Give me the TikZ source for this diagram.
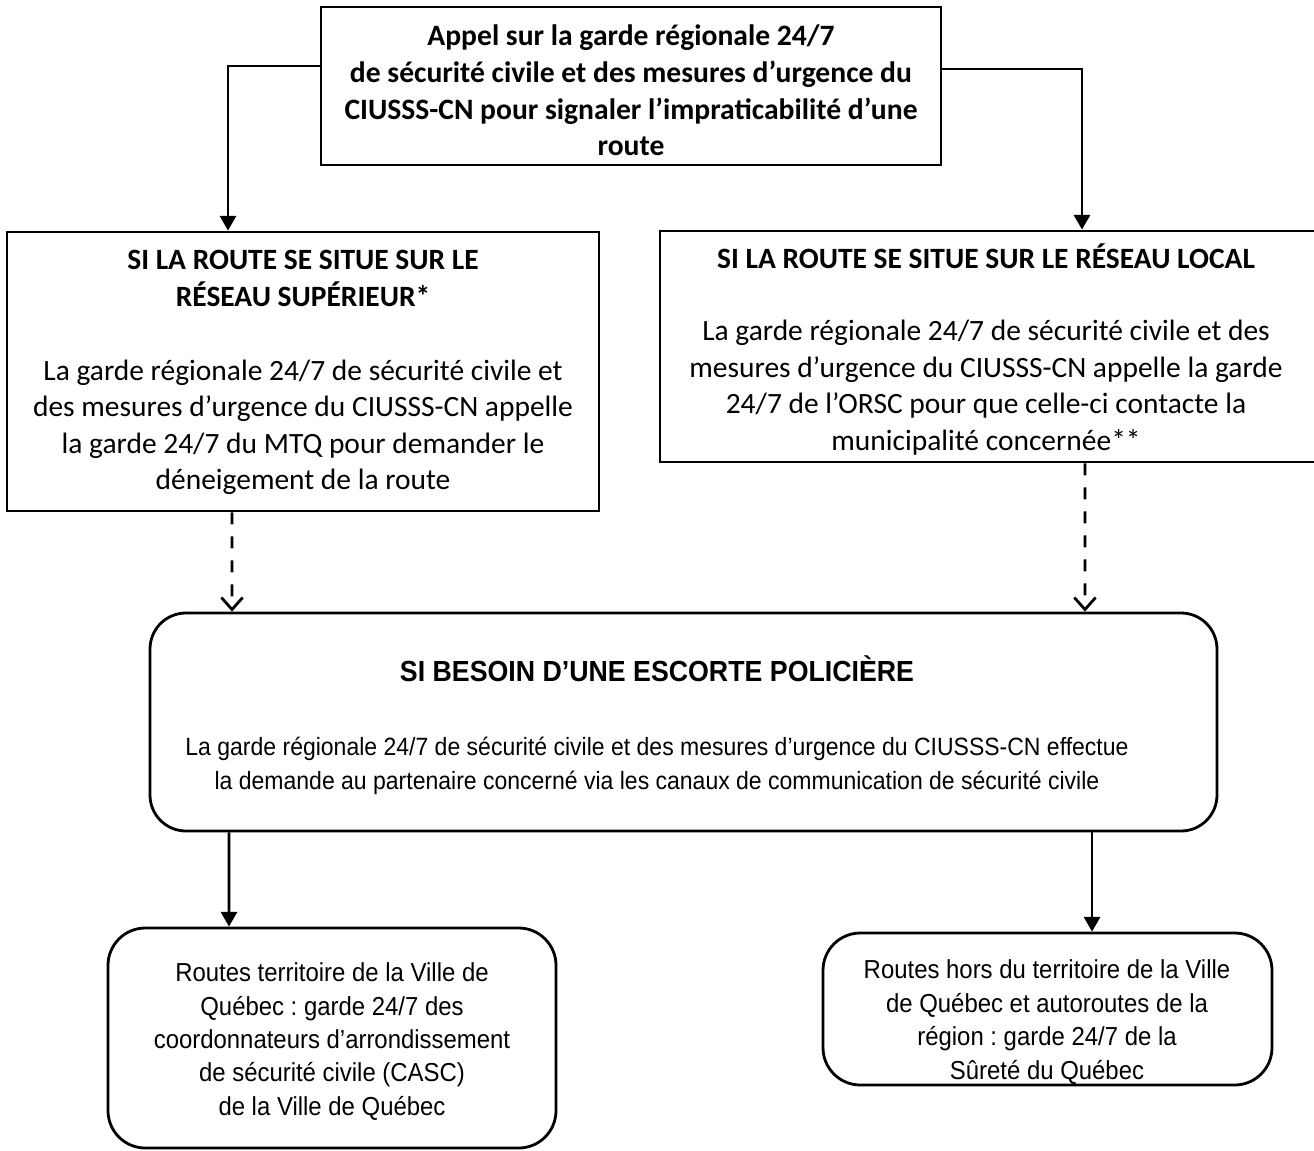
\documentclass[tikz,border=0pt]{standalone}
\usepackage{fontspec}
\setmainfont{Carlito}
\newfontfamily\arialfont[FakeStretch=0.92]{Liberation Sans}
\usetikzlibrary{arrows.meta}
\frenchspacing
\begin{document}
\begin{tikzpicture}[x=0.75pt,y=-0.75pt,
  box/.style={draw,line width=2.1pt,inner sep=0pt,rectangle},
  rbox/.style={box,rounded corners=27pt},
  ctext/.style={align=center,inner sep=0pt,font=\fontsize{22.1pt}{27.4pt}\selectfont},
  atext/.style={align=center,inner sep=0pt,font=\arialfont\fontsize{19.5pt}{25.1pt}\selectfont},
  arr/.style={line width=2.1pt,-{Triangle[length=11pt,width=12pt]}},
  darr/.style={line width=2.1pt,dash pattern=on 9pt off 9pt,-{Straight Barb[length=9pt,width=16pt,line width=2.1pt]}}
]
\useasboundingbox (0,0) rectangle (1314,1150);
% boxes
\node[box,minimum width=465pt,minimum height=118.5pt] (top) at (631,86) {};
\node[box,minimum width=444pt,minimum height=209.25pt] (left) at (303,371.5) {};
\node[box,minimum width=493.5pt,minimum height=173.25pt] (right) at (989,346.5) {};
\node[rbox,minimum width=800.25pt,minimum height=163.5pt] (main) at (683.5,722) {};
\node[rbox,rounded corners=28pt,minimum width=336pt,minimum height=165pt] (bl) at (332,1038) {};
\node[rbox,rounded corners=28pt,minimum width=336.75pt,minimum height=114pt] (br) at (1047.5,1009) {};
% texts
\node[ctext,font=\bfseries\fontsize{22.2pt}{27.4pt}\selectfont] (toptext) at (631,90.5)
 {Appel sur la garde régionale 24/7\\de sécurité civile et des mesures d’urgence du\\CIUSSS-CN pour signaler l’impraticabilité d’une\\route};
\node[ctext] (lefttext) at (303,372.5)
 {\textbf{SI LA ROUTE SE SITUE SUR LE}\\\textbf{RÉSEAU SUPÉRIEUR*}\\[28pt]
  La garde régionale 24/7 de sécurité civile et\\des mesures d’urgence du CIUSSS-CN appelle\\la garde 24/7 du MTQ pour demander le\\déneigement de la route};
\node[ctext] (righttext) at (986,349.5)
 {\textbf{SI LA ROUTE SE SITUE SUR LE RÉSEAU LOCAL}\\[26.6pt]
  La garde régionale 24/7 de sécurité civile et des\\mesures d’urgence du CIUSSS-CN appelle la garde\\24/7 de l’ORSC pour que celle-ci contacte la\\municipalité concernée**};
\node[atext,font=\arialfont\fontsize{18.75pt}{25.5pt}\selectfont] (maintext) at (657,725)
 {{\fontsize{21.8pt}{25.5pt}\selectfont\textbf{SI BESOIN D’UNE ESCORTE POLICIÈRE}}\\[30pt]
  La garde régionale 24/7 de sécurité civile et des mesures d’urgence du CIUSSS-CN effectue\\la demande au partenaire concerné via les canaux de communication de sécurité civile};
\node[atext] (bltext) at (332,1041.5)
 {Routes territoire de la Ville de\\Québec : garde 24/7 des\\coordonnateurs d’arrondissement\\de sécurité civile (CASC)\\de la Ville de Québec};
\node[atext] (brtext) at (1047,1022)
 {Routes hors du territoire de la Ville\\de Québec et autoroutes de la\\région : garde 24/7 de la\\Sûreté du Québec};
% connectors
\draw[arr] ([yshift=15pt]top.west) -| ([xshift=-56.25pt]left.north);
\draw[arr] ([yshift=12.75pt]top.east) -| ([xshift=69.75pt]right.north);
\draw[darr] ([xshift=-53.25pt]left.south) -- ([xshift=-338.6pt]main.north);
\draw[darr] ([xshift=72pt]right.south) -- ([xshift=301.1pt]main.north);
\draw[arr] ([xshift=-340.9pt]main.south) -- ([xshift=-77.25pt]bl.north);
\draw[arr] ([xshift=306.4pt]main.south) -- ([xshift=33.4pt]br.north);
\end{tikzpicture}
\end{document}
